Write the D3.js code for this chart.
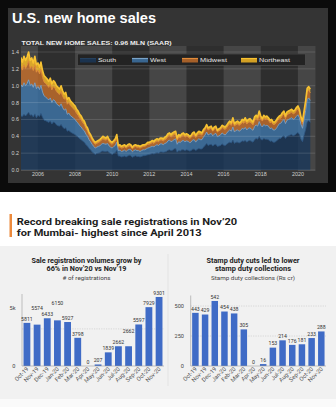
<!DOCTYPE html>
<html>
<head>
<meta charset="utf-8">
<script src="https://cdn.jsdelivr.net/npm/d3@7"></script>
<style>
  html, body { margin: 0; padding: 0; background: #fff; }
  svg { display: block; }
</style>
</head>
<body>
<script>
// ---- US new home sales by region, thousands SAAR, Jan 2005 .. Sep 2020
var regions = ["South", "West", "Midwest", "Northeast"];

var south = [
  600, 640, 635, 660, 640, 660, 685, 650, 655, 630, 665, 620,
  650, 635, 670, 625, 590, 585, 575, 565, 580, 545, 570, 560,
  535, 525, 520, 540, 510, 490, 500, 460, 470, 450, 440, 430,
  420, 400, 390, 370, 360, 340, 330, 300, 285, 255, 240, 215,
  200, 185, 195, 200, 205, 220, 225, 220, 220, 225, 205, 195,
  185, 200, 205, 235, 165, 165, 155, 160, 165, 155, 165, 175,
  170, 150, 160, 170, 160, 160, 155, 160, 170, 170, 175, 180,
  185, 190, 195, 190, 200, 205, 200, 215, 215, 210, 215, 220,
  235, 240, 230, 235, 250, 255, 210, 230, 225, 240, 240, 230,
  240, 235, 225, 230, 245, 250, 230, 245, 255, 250, 250, 270,
  290, 315, 290, 300, 305, 285, 300, 305, 280, 285, 290, 310,
  295, 290, 305, 320, 330, 320, 355, 315, 330, 330, 320, 330,
  345, 340, 350, 330, 345, 350, 340, 330, 360, 375, 365, 400,
  365, 355, 375, 365, 365, 360, 340, 345, 330, 330, 340, 360,
  375, 375, 395, 405, 375, 400, 405, 415, 420, 405, 415, 430,
  445, 420, 365, 335, 410, 480, 570, 585, 565
];
var west = [
  320, 370, 350, 375, 360, 365, 385, 355, 365, 350, 370, 345,
  340, 320, 335, 300, 290, 280, 275, 265, 275, 255, 265, 260,
  250, 245, 235, 245, 230, 220, 225, 200, 205, 195, 190, 185,
  180, 170, 165, 155, 150, 140, 135, 125, 115, 105, 95, 90,
  80, 75, 75, 80, 80, 85, 90, 90, 85, 90, 80, 75,
  75, 80, 85, 95, 65, 70, 65, 65, 70, 65, 70, 70,
  70, 65, 70, 70, 70, 70, 65, 70, 70, 70, 75, 80,
  80, 85, 85, 85, 90, 95, 90, 95, 95, 90, 100, 100,
  110, 115, 105, 110, 110, 115, 95, 105, 100, 105, 110, 105,
  105, 105, 100, 100, 110, 110, 100, 110, 115, 110, 110, 120,
  125, 135, 125, 125, 130, 120, 125, 130, 115, 120, 125, 130,
  130, 125, 130, 140, 145, 140, 155, 135, 140, 145, 140, 140,
  150, 145, 155, 145, 150, 150, 145, 140, 155, 160, 155, 175,
  165, 155, 165, 160, 165, 160, 150, 155, 145, 145, 150, 160,
  175, 180, 185, 195, 175, 190, 195, 195, 200, 195, 195, 205,
  210, 200, 175, 160, 190, 225, 265, 270, 260
];
var midwest = [
  190, 220, 200, 215, 205, 215, 225, 200, 210, 200, 215, 195,
  195, 185, 190, 175, 165, 160, 160, 150, 160, 150, 155, 150,
  145, 140, 140, 145, 135, 130, 130, 120, 125, 120, 115, 110,
  105, 100, 95, 90, 85, 80, 75, 70, 65, 60, 55, 50,
  45, 45, 45, 45, 50, 50, 55, 50, 50, 55, 50, 45,
  45, 45, 50, 55, 40, 40, 40, 40, 40, 40, 40, 40,
  40, 35, 40, 40, 40, 40, 40, 40, 40, 40, 40, 45,
  40, 40, 45, 40, 45, 45, 45, 45, 45, 45, 45, 50,
  55, 55, 55, 60, 60, 60, 50, 55, 55, 55, 60, 55,
  55, 55, 50, 55, 55, 60, 55, 55, 60, 60, 55, 60,
  60, 65, 60, 60, 60, 55, 60, 60, 55, 60, 60, 65,
  65, 65, 65, 70, 70, 70, 75, 70, 70, 70, 70, 70,
  70, 70, 75, 70, 70, 70, 70, 65, 75, 75, 70, 80,
  75, 70, 75, 75, 75, 70, 70, 70, 65, 65, 70, 70,
  60, 60, 65, 65, 60, 65, 65, 65, 65, 65, 65, 70,
  70, 65, 60, 55, 65, 75, 90, 90, 90
];
var northeast = [
  90, 100, 95, 100, 95, 100, 105, 95, 100, 90, 100, 90,
  85, 80, 85, 80, 75, 75, 70, 70, 75, 70, 70, 70,
  70, 70, 65, 70, 65, 60, 65, 60, 60, 55, 55, 55,
  55, 50, 50, 45, 45, 40, 40, 35, 35, 30, 30, 25,
  25, 25, 25, 25, 25, 25, 30, 30, 25, 30, 25, 25,
  25, 25, 30, 35, 20, 25, 20, 25, 25, 20, 25, 25,
  20, 20, 20, 20, 20, 20, 20, 20, 20, 20, 20, 25,
  25, 25, 25, 25, 25, 25, 25, 25, 25, 25, 30, 30,
  30, 30, 30, 35, 30, 30, 25, 30, 30, 30, 30, 30,
  30, 25, 25, 25, 30, 30, 25, 30, 30, 30, 25, 30,
  25, 25, 25, 25, 25, 20, 25, 25, 20, 25, 25, 25,
  30, 30, 30, 30, 35, 30, 35, 30, 30, 35, 30, 30,
  35, 35, 40, 35, 35, 40, 35, 35, 40, 40, 40, 45,
  35, 30, 35, 30, 35, 30, 30, 30, 30, 30, 30, 30,
  30, 35, 35, 35, 30, 35, 35, 35, 35, 35, 35, 35,
  35, 35, 30, 30, 35, 40, 45, 45, 45
];
var yTicksTop = [0, 0.2, 0.4, 0.6, 0.8, 1.0, 1.2, 1.4];
var yearTicks = [2006, 2008, 2010, 2012, 2014, 2016, 2018, 2020];

// ---- Mumbai registrations and stamp duty, Oct-19 .. Nov-20
var monthsMumbai = ["Oct-19", "Nov-19", "Dec-19", "Jan-20", "Feb-20", "Mar-20", "Apr-20",
                    "May-20", "Jun-20", "Jul-20", "Aug-20", "Sep-20", "Oct-20", "Nov-20"];
var registrations = [5811, 5574, 6433, 6150, 5927, 3798, 0, 207, 1839, 2662, 2662, 5597, 7929, 9301];
var stampDuty = [443, 429, 542, 454, 438, 305, 0, 16, 153, 214, 176, 181, 233, 288];

var W = 336, H = 407;
var svg = d3.select("body").append("svg")
  .attr("width", W)
  .attr("height", H);

// small helper: text squeezed/stretched to a set width
function label(sel, x, y, str, size, opts) {
  opts = opts || {};
  var t = sel.append("text")
    .attr("x", x).attr("y", y)
    .attr("font-family", opts.family || "Roboto, sans-serif")
    .attr("font-weight", opts.weight || "normal")
    .attr("font-size", size)
    .attr("fill", opts.fill || "#222")
    .attr("text-anchor", opts.anchor || "start")
    .text(str);
  if (opts.len) t.attr("textLength", opts.len).attr("lengthAdjust", "spacingAndGlyphs");
  return t;
}

// ================= top: dark stacked area =================
var arial = "Liberation Sans, Arial, sans-serif";
svg.append("rect").attr("x", 0).attr("y", 0).attr("width", W).attr("height", 192).attr("fill", "#0b0b0b");
svg.append("rect").attr("x", 8).attr("y", 8).attr("width", 320).attr("height", 175).attr("fill", "#343434");

label(svg, 12, 23, "U.S. new home sales", 15.5, { family: arial, weight: "bold", fill: "#fff", len: 144 });
label(svg, 21.5, 44.5, "TOTAL NEW HOME SALES: 0.96 MLN (SAAR)", 5.8, { family: arial, weight: "bold", fill: "#eee", len: 150 });

var months = d3.timeMonth.range(new Date(2005, 0, 1), new Date(2020, 9, 1));
var table = months.map(function(d, i) {
  return { date: d, South: south[i], West: west[i], Midwest: midwest[i], Northeast: northeast[i] };
});

var plotL = 21, plotR = 315.5;
var x = d3.scaleTime()
  .domain([new Date(2005, 0, 1), new Date(2021, 0, 1)])
  .range([19.4, 316.5]);
var y = d3.scaleLinear().domain([0, 1.4]).range([170, 52]);

svg.append("clipPath").attr("id", "plotclip")
  .append("rect").attr("x", plotL).attr("y", 46).attr("width", plotR - plotL).attr("height", 125);

var plot = svg.append("g").attr("clip-path", "url(#plotclip)");

// alternating two-year shading
plot.append("rect").attr("x", plotL).attr("y", 46).attr("width", plotR - plotL).attr("height", 125).attr("fill", "#2e2e2e");
plot.selectAll("rect.band")
    .data(d3.range(2004, 2021, 4)).enter()
  .append("rect")
    .attr("class", "band")
    .attr("x", function(d) { return x(new Date(d, 0, 1)); })
    .attr("width", function(d) { return x(new Date(d + 2, 0, 1)) - x(new Date(d, 0, 1)); })
    .attr("y", 46).attr("height", 125)
    .attr("fill", "#464646");

var stack = d3.stack().keys(regions).value(function(d, k) { return d[k] / 1000; });
var layers = stack(table);

// fills are translucent so the year shading shows through
var fills = { South: "#19375a", West: "#3e77ab", Midwest: "#c76f2a", Northeast: "#ffbf24" };
var strokes = { South: "#2c5683", West: "#7aa3c8", Midwest: "#e08b3b", Northeast: "#f7c232" };
var widths = { South: 0.8, West: 0.9, Midwest: 1.0, Northeast: 1.6 };

var area = d3.area()
  .x(function(d) { return x(d.data.date); })
  .y0(function(d) { return y(d[0]); })
  .y1(function(d) { return y(d[1]); });
var topLine = d3.line()
  .x(function(d) { return x(d.data.date); })
  .y(function(d) { return y(d[1]); });

plot.selectAll("path.area")
    .data(layers).enter()
  .append("path")
    .attr("class", "area")
    .attr("d", area)
    .attr("fill", function(d) { return fills[d.key]; })
    .attr("fill-opacity", 0.8);

plot.selectAll("line.grid")
    .data(yTicksTop).enter()
  .append("line")
    .attr("class", "grid")
    .attr("x1", plotL).attr("x2", plotR)
    .attr("y1", function(d) { return y(d); })
    .attr("y2", function(d) { return y(d); })
    .attr("stroke", "#fff").attr("stroke-opacity", 0.2).attr("stroke-width", 0.7);

plot.selectAll("path.top")
    .data(layers).enter()
  .append("path")
    .attr("class", "top")
    .attr("d", function(d) { return topLine(d); })
    .attr("fill", "none")
    .attr("stroke", function(d) { return strokes[d.key]; })
    .attr("stroke-width", function(d) { return widths[d.key]; })
    .attr("stroke-linejoin", "round");

svg.selectAll("text.ytop")
    .data(yTicksTop).enter()
  .append("text")
    .attr("class", "ytop")
    .attr("x", 19).attr("y", function(d) { return y(d) + 2; })
    .attr("text-anchor", "end")
    .attr("font-family", arial)
    .attr("font-size", 5.4).attr("fill", "#d0d0d0")
    .text(function(d) { return d3.format(".1f")(d); });

svg.selectAll("text.xtop")
    .data(yearTicks).enter()
  .append("text")
    .attr("class", "xtop")
    .attr("x", function(d) { return x(new Date(d, 0, 1)); })
    .attr("y", 175.5)
    .attr("text-anchor", "middle")
    .attr("font-family", arial)
    .attr("font-size", 5.4).attr("fill", "#d0d0d0")
    .text(function(d) { return d; });

// legend
var legend = svg.append("g");
legend.append("rect")
  .attr("x", 77.5).attr("y", 54).attr("width", 228).attr("height", 11.5)
  .attr("fill", "#232323").attr("stroke", "#555").attr("stroke-width", 0.6);
var legendX = { South: 80, West: 132, Midwest: 182, Northeast: 241 };
var legendLen = { South: 18, West: 16, Midwest: 27, Northeast: 31 };
regions.forEach(function(k) {
  var lx = legendX[k];
  legend.append("rect")
    .attr("x", lx).attr("y", 58.5).attr("width", 16).attr("height", 4)
    .attr("fill", fills[k]).attr("fill-opacity", 0.8);
  legend.append("line")
    .attr("x1", lx).attr("x2", lx + 16).attr("y1", 58.5).attr("y2", 58.5)
    .attr("stroke", strokes[k]).attr("stroke-width", k === "South" ? 0.5 : 1.2);
  label(legend, lx + 18, 62, k, 6.2, { family: arial, fill: "#e6e6e6", len: legendLen[k] });
});

// ================= bottom: Mumbai bar charts =================
svg.append("rect").attr("x", 0).attr("y", 246).attr("width", W).attr("height", 153).attr("fill", "#f1f1f1");
svg.append("rect").attr("x", 0).attr("y", 399).attr("width", W).attr("height", 8).attr("fill", "#fafafa");

svg.append("rect").attr("x", 9.5).attr("y", 214).attr("width", 2.5).attr("height", 23).attr("fill", "#ec8a3c");
label(svg, 16.7, 224.5, "Record breaking sale registrations in Nov\u201920", 9.8, { weight: "bold", fill: "#1d1d1d", len: 220.5 });
label(svg, 16.7, 235.5, "for Mumbai- highest since April 2013", 9.8, { weight: "bold", fill: "#1d1d1d", len: 185 });

svg.append("line")
  .attr("x1", 168).attr("x2", 168).attr("y1", 254).attr("y2", 386)
  .attr("stroke", "#dcdcdc").attr("stroke-width", 0.7);

function barChart(cfg) {
  var g = svg.append("g");

  cfg.title.forEach(function(t, i) {
    label(g, cfg.cx, 262.5 + i * 8.5, t, 6.9, { weight: "bold", anchor: "middle", len: cfg.titleLen[i] });
  });
  label(g, cfg.cx, 279.5, cfg.subtitle, 5.5, { anchor: "middle", fill: "#444", len: cfg.subLen });

  var xb = d3.scaleBand()
    .domain(cfg.cats)
    .range(cfg.xr)
    .paddingInner(0.33).paddingOuter(0.15);
  var yb = d3.scaleLinear().domain([0, cfg.max]).range([366, cfg.top]);

  // dashed gridlines
  g.selectAll("line.g")
      .data(cfg.grid).enter()
    .append("line")
      .attr("x1", cfg.xr[0]).attr("x2", cfg.xr[1])
      .attr("y1", function(d) { return yb(d); })
      .attr("y2", function(d) { return yb(d); })
      .attr("stroke", "#bdbdbd").attr("stroke-width", 0.5)
      .attr("stroke-dasharray", "1.2,1.2");

  g.selectAll("rect.bar")
      .data(cfg.vals).enter()
    .append("rect")
      .attr("class", "bar")
      .attr("x", function(d, i) { return xb(cfg.cats[i]); })
      .attr("width", xb.bandwidth())
      .attr("y", function(d) { return yb(d); })
      .attr("height", function(d) { return 366 - yb(d); })
      .attr("fill", "#3f6bc6");

  // axis lines
  g.append("line")
    .attr("x1", cfg.xr[0]).attr("x2", cfg.xr[0])
    .attr("y1", cfg.top - 1.5).attr("y2", 366)
    .attr("stroke", "#9a9a9a").attr("stroke-width", 0.6);
  g.append("line")
    .attr("x1", cfg.xr[0]).attr("x2", cfg.xr[1])
    .attr("y1", 366).attr("y2", 366)
    .attr("stroke", "#9a9a9a").attr("stroke-width", 0.6);

  g.selectAll("text.yt")
      .data(cfg.ticks).enter()
    .append("text")
      .attr("x", cfg.tickX)
      .attr("y", function(d, i) { return yb(d) + 2 + (cfg.tickShift[i] || 0); })
      .attr("text-anchor", "end")
      .attr("font-family", "Roboto, sans-serif").attr("font-size", 5.6)
      .attr("fill", "#444")
      .text(function(d) { return cfg.fmt(d); });

  // value labels, nudged upward when they collide with the previous one
  var prev = null;
  cfg.vals.forEach(function(v, i) {
    var cx = xb(cfg.cats[i]) + xb.bandwidth() / 2;
    var ly = yb(v) - 2.2;
    var t = label(g, cx, ly, v, 5.2, { anchor: "middle", fill: "#333" });
    var w = t.node().getComputedTextLength();
    if (prev && Math.abs(cx - prev.cx) < (w + prev.w) / 2 && Math.abs(ly - prev.y) < 6) {
      ly = prev.y - 11;
      t.attr("y", ly);
    }
    prev = { cx: cx, y: ly, w: w };
  });

  g.selectAll("text.xl")
      .data(cfg.cats).enter()
    .append("text")
      .attr("transform", function(d) {
        return "translate(" + (xb(d) + xb.bandwidth() / 2 + 2) + ",369.5) rotate(-45)";
      })
      .attr("text-anchor", "end")
      .attr("font-family", "Roboto, sans-serif").attr("font-size", 5.8)
      .attr("fill", "#555")
      .text(function(d) { return d; });
}

barChart({
  cx: 86.5,
  title: ["Sale registration volumes grow by", "66% in Nov\u201920 vs Nov\u201919"],
  titleLen: [110, 80],
  subtitle: "# of registrations", subLen: 48,
  cats: monthsMumbai, vals: registrations,
  xr: [22, 164], max: 9500, top: 295.5,
  grid: [5000], ticks: [0, 5000], tickShift: [0, -21], tickX: 15.5,
  fmt: function(d) { return d === 0 ? "0" : (d / 1000) + "k"; }
});

barChart({
  cx: 253,
  title: ["Stamp duty cuts led to lower", "stamp duty collections"],
  titleLen: [93, 76],
  subtitle: "Stamp duty collections (Rs cr)", subLen: 84,
  cats: monthsMumbai, vals: stampDuty,
  xr: [190.7, 326], max: 575, top: 297,
  grid: [250, 500], ticks: [0, 250, 500], tickShift: [], tickX: 184,
  fmt: function(d) { return String(d); }
});
</script>
</body>
</html>
